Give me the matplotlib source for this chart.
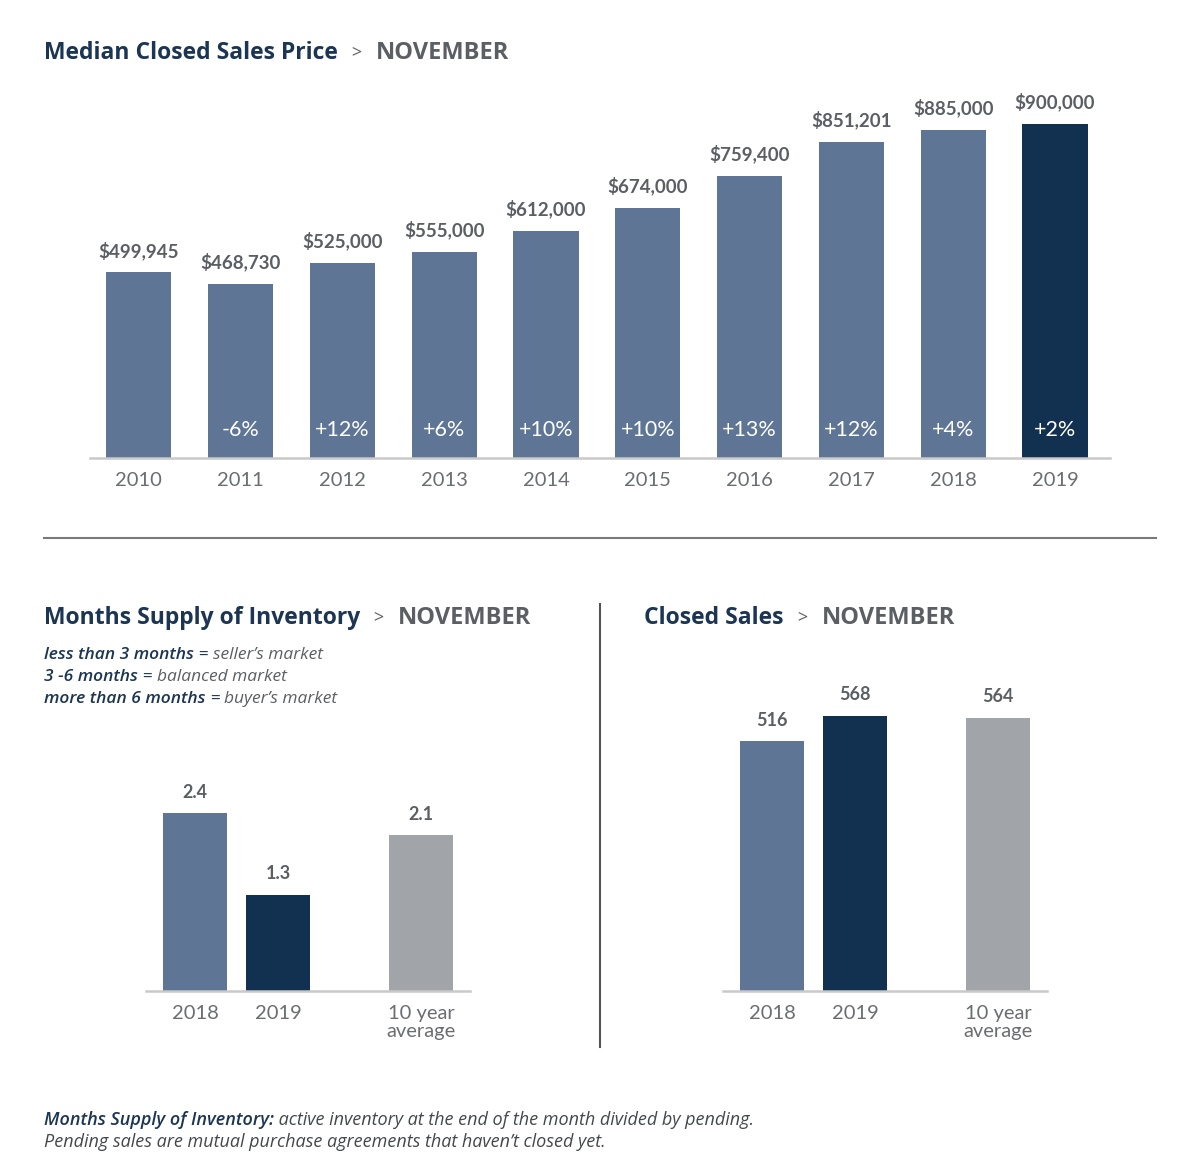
#!/usr/bin/env python3
import matplotlib
matplotlib.use('Agg')
import matplotlib.pyplot as plt
from matplotlib.lines import Line2D

plt.rcParams['font.family'] = ['Lato', 'DejaVu Sans']

W, H = 1200, 1175

# data
years = ['2010', '2011', '2012', '2013', '2014', '2015', '2016', '2017', '2018', '2019']
prices = [499945, 468730, 525000, 555000, 612000, 674000, 759400, 851201, 885000, 900000]
price_labels = ['$499,945', '$468,730', '$525,000', '$555,000', '$612,000',
                '$674,000', '$759,400', '$851,201', '$885,000', '$900,000']
pct_change = ['', '-6%', '+12%', '+6%', '+10%', '+10%', '+13%', '+12%', '+4%', '+2%']

cmp_cats = ['2018', '2019', '10 year\naverage']
supply = [2.4, 1.3, 2.1]
closed = [516, 568, 564]

legend_rows = [('less than 3 months', "seller\u2019s market"),
               ('3 -6 months', 'balanced market'),
               ('more than 6 months', "buyer\u2019s market")]

MID = '#5e7595'
DARK = '#12304f'
GREY = '#a1a5a9'
NAVY = '#1b3553'
TXT = '#5b5f64'
AXIS = '#c9c9c9'
TITLE_FONT = ['Open Sans', 'DejaVu Sans']
NOTE_FONT = ['Open Sans', 'DejaVu Sans']

fig = plt.figure(figsize=(W / 100, H / 100), dpi=100)


def px_axes(left, top, right, bottom):
    return fig.add_axes([left / W, 1 - bottom / H, (right - left) / W, (bottom - top) / H])


def style_ax(ax):
    for s in ['top', 'right', 'left']:
        ax.spines[s].set_visible(False)
    ax.spines['bottom'].set_color(AXIS)
    ax.spines['bottom'].set_linewidth(1.8)
    ax.set_yticks([])
    ax.tick_params(axis='x', length=0, pad=10, labelsize=14.5, labelcolor='#6a6d71')


def chain(x, y, parts):
    # draw text pieces one after the other on the same line (x, y in pixels)
    r = fig.canvas.get_renderer()
    for s, kw in parts:
        t = fig.text(x / W, 1 - y / H, s, va='center', ha='left', **kw)
        bb = t.get_window_extent(r)
        x += bb.width


def title(x, y, main):
    chain(x, y, [(main, dict(fontsize=16.5, fontweight='bold', color=NAVY, family=TITLE_FONT)),
                 ('   >   ', dict(fontsize=13, color=TXT, family=TITLE_FONT)),
                 ('NOVEMBER', dict(fontsize=17, fontweight='bold', color=TXT, family=TITLE_FONT))])


# ---- top chart
ax = px_axes(90, 90, 1110, 458)
style_ax(ax)
xs = list(range(len(years)))
colors = [MID] * (len(years) - 1) + [DARK]
bars = ax.bar(xs, prices, width=0.64, color=colors)
ax.set_xlim(-0.48, 9.54)
ax.set_ylim(0, 900000 * 368 / 334)
ax.set_xticks(xs)
ax.set_xticklabels(years)
for b, lab, pc in zip(bars, price_labels, pct_change):
    cx = b.get_x() + b.get_width() / 2
    ax.annotate(lab, (cx, b.get_height()), xytext=(0, 9), textcoords='offset points',
                ha='center', va='bottom', fontsize=13.5, fontweight='bold', color=TXT)
    if pc:
        ax.annotate(pc, (cx, 0), xytext=(0, 20), textcoords='offset points',
                    ha='center', va='center', fontsize=15.5, color='white')

# ---- months supply
ax2 = px_axes(146, 680, 470, 991)
style_ax(ax2)
cx2 = [0, 1, 2.72]
b2 = ax2.bar(cx2, supply, width=0.78, color=[MID, DARK, GREY])
ax2.set_xlim(-0.59, 3.31)
ax2.set_ylim(0, 2.4 * 311 / 178)
ax2.set_xticks(cx2)
ax2.set_xticklabels(cmp_cats, linespacing=1.05, va='top')
for b, v in zip(b2, supply):
    ax2.annotate(f'{v}', (b.get_x() + b.get_width() / 2, v), xytext=(0, 9),
                 textcoords='offset points', ha='center', va='bottom',
                 fontsize=13, fontweight='bold', color=TXT)

# ---- closed sales
ax3 = px_axes(723, 680, 1047, 991)
style_ax(ax3)
b3 = ax3.bar(cx2, closed, width=0.78, color=[MID, DARK, GREY])
ax3.set_xlim(-0.59, 3.31)
ax3.set_ylim(0, 568 * 311 / 275)
ax3.set_xticks(cx2)
ax3.set_xticklabels(cmp_cats, linespacing=1.05, va='top')
for b, v in zip(b3, closed):
    ax3.annotate(f'{v}', (b.get_x() + b.get_width() / 2, v), xytext=(0, 9),
                 textcoords='offset points', ha='center', va='bottom',
                 fontsize=13, fontweight='bold', color=TXT)

# separators
fig.add_artist(Line2D([44 / W, 1156 / W], [1 - 538 / H] * 2, color='#7a7a7a', lw=1.5))
fig.add_artist(Line2D([600 / W] * 2, [1 - 604 / H, 1 - 1047 / H], color='#555555', lw=1.5))

# titles
title(44, 53, 'Median Closed Sales Price')
title(44, 618, 'Months Supply of Inventory')
title(644, 618, 'Closed Sales')

for i, (a, b) in enumerate(legend_rows):
    chain(44, 655 + 22 * i, [(a, dict(fontsize=12.5, fontweight='semibold', style='italic', color=NAVY, family=NOTE_FONT)),
                             (' = ', dict(fontsize=12.5, style='italic', color=NAVY, family=NOTE_FONT)),
                             (b, dict(fontsize=12.5, style='italic', color=TXT, family=NOTE_FONT))])

chain(44, 1120, [('Months Supply of Inventory:', dict(fontsize=13, fontweight='semibold', style='italic', color=NAVY, family=NOTE_FONT)),
                 (' active inventory at the end of the month divided by pending.',
                  dict(fontsize=13, style='italic', color='#44484d', family=NOTE_FONT))])
chain(44, 1142, [('Pending sales are mutual purchase agreements that haven\u2019t closed yet.',
                  dict(fontsize=13, style='italic', color='#44484d', family=NOTE_FONT))])

fig.savefig('out.png', dpi=100, facecolor='white')
